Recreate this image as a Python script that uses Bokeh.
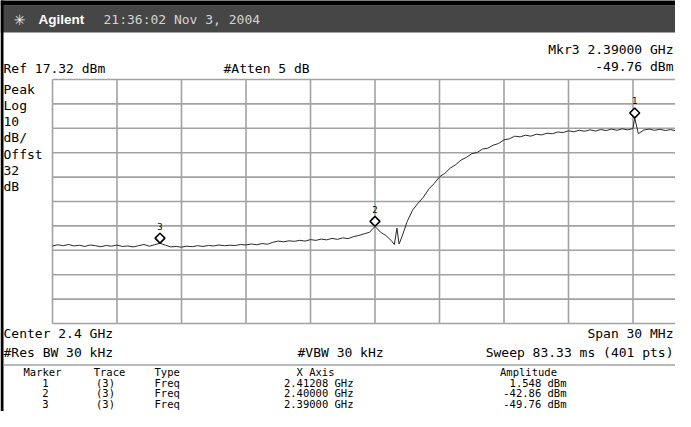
from math import pi
from bokeh.plotting import figure
from bokeh.models import Range1d
from bokeh.embed import file_html
from bokeh.resources import INLINE
from bokeh.core.properties import value

# ---------------- data ----------------
start_ghz = 2.385
span_ghz = 0.030
ref_dbm = 17.32
db_per_div = 10

# trace: frequency offset from start (MHz) and amplitude (dBm)
trace_off_mhz = [
    0.00, 0.25, 0.50, 0.75, 1.00, 1.25, 1.50, 1.75, 2.00, 2.25,
    2.50, 2.75, 3.00, 3.25, 3.50, 3.75, 4.00, 4.25, 4.50, 4.75,
    5.00, 5.25, 5.50, 5.75, 6.00, 6.25, 6.50, 6.75, 7.00, 7.25,
    7.50, 7.75, 8.00, 8.25, 8.50, 8.75, 9.00, 9.25, 9.50, 9.75,
    10.00, 10.25, 10.50, 10.75, 11.00, 11.25, 11.50, 11.75, 12.00, 12.25,
    12.50, 12.75, 13.00, 13.25, 13.50, 13.75, 14.00, 14.25, 14.50, 14.75,
    15.00, 15.25, 15.50, 15.75, 15.90, 16.02, 16.12, 16.25, 16.50, 16.75,
    17.00, 17.25, 17.50, 17.75, 18.00, 18.25, 18.50, 18.75, 19.00, 19.25,
    19.50, 19.75, 20.00, 20.25, 20.50, 20.75, 21.00, 21.25, 21.50, 21.75,
    22.00, 22.25, 22.50, 22.75, 23.00, 23.25, 23.50, 23.75, 24.00, 24.25,
    24.50, 24.75, 25.00, 25.25, 25.50, 25.75, 26.00, 26.25, 26.50, 26.75,
    27.00, 27.08, 27.25, 27.50, 27.75, 28.00, 28.25, 28.50, 28.75, 29.00,
    29.25, 29.50, 29.75, 30.00,
]
trace_dbm = [
    -50.9, -50.4, -50.8, -50.3, -50.9, -50.6, -51.1, -50.5, -50.8, -51.2,
    -50.7, -51.0, -50.5, -51.1, -50.9, -51.3, -50.8, -50.3, -51.0, -50.4,
    -49.76, -50.6, -51.3, -51.1, -51.4, -51.0, -51.2, -50.8, -51.1, -50.7,
    -50.9, -50.5, -50.8, -50.6, -50.7, -50.3, -50.5, -50.1, -50.4, -49.9,
    -50.2, -49.4, -48.9, -49.2, -48.8, -49.0, -48.6, -48.9, -48.3, -48.6,
    -48.1, -48.4, -47.8, -48.2, -47.6, -47.9, -47.1, -46.6, -45.9, -45.3,
    -42.86, -45.2, -46.6, -48.6, -50.3, -43.6, -50.1, -47.2, -40.8, -36.2,
    -33.4, -30.9, -27.6, -25.3, -22.6, -21.1, -19.0, -17.6, -15.7, -14.6,
    -13.1, -12.6, -11.2, -10.8, -9.6, -8.9, -7.4, -7.0, -5.9, -6.2,
    -5.5, -5.9, -5.1, -5.4, -4.7, -4.9, -4.2, -4.4, -3.7, -4.1,
    -3.5, -3.9, -3.3, -3.8, -3.2, -3.6, -3.0, -3.5, -2.9, -3.3,
    -2.8, 1.548, -4.9, -3.4, -3.0, -3.5, -3.1, -3.6, -3.2, -3.7,
    -3.3, -3.8, -3.4, -3.6,
]

marker_ids = ["1", "2", "3"]
marker_trace = ["(3)", "(3)", "(3)"]
marker_type = ["Freq", "Freq", "Freq"]
marker_ghz = [2.41208, 2.40000, 2.39000]
marker_dbm = [1.548, -42.86, -49.76]

# ---------------- layout ----------------
W, H = 675, 411
MONO = "DejaVu Sans Mono"
GRID = "#a2a2a2"

# graticule in canvas pixels: left 52, top 79, 64.5 px per x-div, 24.4 px per y-div
GX0, GY0, GX1, GY1 = 52, 79, 697, 323
kx = (GX1 - GX0) / span_ghz            # px per GHz
ky = (GY1 - GY0) / (10 * db_per_div)   # px per dB
x_lo = start_ghz - GX0 / kx
x_hi = x_lo + W / kx
y_hi = ref_dbm + GY0 / ky
y_lo = y_hi - H / ky


def fx(px):
    return x_lo + px / kx


def fy(py):
    return y_hi - py / ky


p = figure(width=W, height=H, output_backend="svg", toolbar_location=None,
           x_axis_type=None, y_axis_type=None, title=None,
           x_range=Range1d(x_lo, x_hi), y_range=Range1d(y_lo, y_hi),
           min_border_left=0, min_border_right=0, min_border_top=0,
           min_border_bottom=0)
p.background_fill_color = "white"
p.border_fill_color = "white"
p.outline_line_color = None
p.xgrid.visible = False
p.ygrid.visible = False

# header bar, black borders, separator line
p.quad(left=[fx(0)], right=[fx(700)], top=[fy(5)], bottom=[fy(32)],
       fill_color="#464646", line_color=None)
p.quad(left=[fx(0), fx(0)], right=[fx(700), fx(3)], top=[fy(-5), fy(-5)],
       bottom=[fy(5), fy(440)], fill_color="black", line_color=None)
p.segment(x0=[fx(3)], y0=[fy(364.5)], x1=[fx(700)], y1=[fy(364.5)],
          line_color=GRID, line_width=1.5)

# graticule
y_top, y_bot = ref_dbm, ref_dbm - 10 * db_per_div
x_div = [start_ghz + span_ghz / 10 * k for k in range(0, 11)]
y_div = [ref_dbm - db_per_div * k for k in range(0, 11)]
p.segment(x0=x_div, y0=[y_top] * len(x_div), x1=x_div, y1=[y_bot] * len(x_div),
          line_color=GRID, line_width=1.6)
p.segment(x0=[start_ghz] * len(y_div), y0=y_div,
          x1=[start_ghz + span_ghz] * len(y_div), y1=y_div,
          line_color=GRID, line_width=1.6)

freq_ghz = [start_ghz + m / 1000 for m in trace_off_mhz]
p.line(freq_ghz, trace_dbm, line_color="#2b2b2b", line_width=1)

# markers (diamond sits on top of the marked point)
lift = 5.0 / ky
mk_y = [a + lift for a in marker_dbm]
p.scatter(marker_ghz, mk_y, marker="square", angle=pi / 4, size=7,
          fill_color="white", line_color="black", line_width=1.6)
p.text(marker_ghz, mk_y, text=marker_ids, y_offset=-12, text_align="center",
       text_baseline="middle", text_font=value(MONO), text_font_size="9px",
       text_color="black")


def txt(x, y, s, size="13px", align="left", color="black", font=MONO, style="normal"):
    p.text(x=[fx(x)], y=[fy(y)], text=[s], text_align=align, text_baseline="middle",
           text_font_size=size, text_color=color, text_font=value(font),
           text_font_style=style)


txt(19, 19, "\u2733", size="14px", align="center", color="#e6e6e6", font="DejaVu Sans")
txt(38, 19, "Agilent", size="13.5px", color="white", font="Liberation Sans", style="bold")
txt(103, 19, "21:36:02 Nov 3, 2004", color="#d4d4d4")

txt(673, 48.5, "Mkr3 %.5f GHz" % marker_ghz[2], align="right")
txt(673, 66, "%.2f dBm" % marker_dbm[2], align="right")
txt(3, 68, "Ref %.2f dBm" % ref_dbm)
txt(223, 68, "#Atten 5 dB")

left_lbls = ["Peak", "Log", "10", "dB/", "Offst", "32", "dB"]
for i, s in enumerate(left_lbls):
    txt(3, 88.5 + 16.3 * i, s)

txt(3, 333, "Center %.1f GHz" % (start_ghz + span_ghz / 2))
txt(673, 333, "Span %d MHz" % round(span_ghz * 1000), align="right")
txt(3, 351.5, "#Res BW 30 kHz")
txt(297, 351.5, "#VBW 30 kHz")
txt(673, 351.5, "Sweep 83.33 ms (401 pts)", align="right")

TS = "10.5px"
txt(42, 371.5, "Marker", size=TS, align="center")
txt(109, 371.5, "Trace", size=TS, align="center")
txt(154, 371.5, "Type", size=TS)
txt(315, 371.5, "X Axis", size=TS, align="center")
txt(528, 371.5, "Amplitude", size=TS, align="center")
for i in range(3):
    yy = 382 + 10.5 * i
    txt(45, yy, marker_ids[i], size=TS, align="center")
    txt(105, yy, marker_trace[i], size=TS, align="center")
    txt(154, yy, marker_type[i], size=TS)
    txt(353, yy, "%.5f GHz" % marker_ghz[i], size=TS, align="right")
    txt(566, yy, ("%.3f dBm" if abs(marker_dbm[i]) < 10 else "%.2f dBm") % marker_dbm[i],
        size=TS, align="right")

open("out.html", "w").write(file_html(p, INLINE))
